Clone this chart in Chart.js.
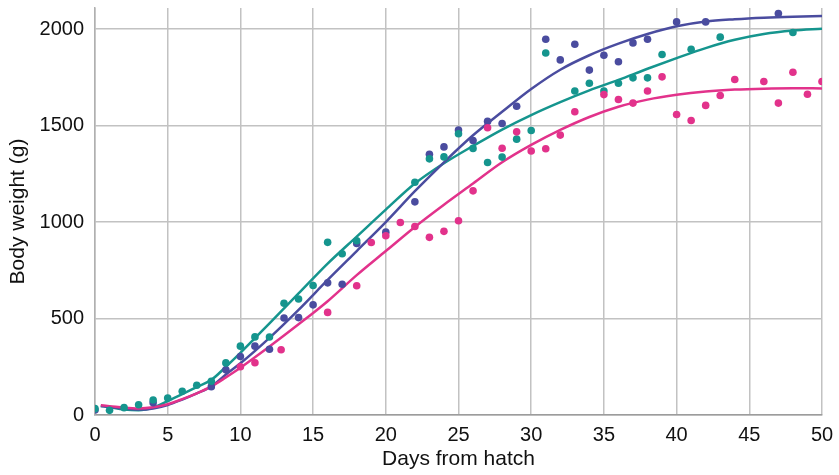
<!DOCTYPE html>
<html>
<head>
<meta charset="utf-8">
<script src="https://cdn.jsdelivr.net/npm/chart.js@4.4.1/dist/chart.umd.min.js"></script>
<style>
  html, body { margin: 0; padding: 0; background: #ffffff; }
  #wrap { width: 839px; height: 475px; }
</style>
</head>
<body>
<div id="wrap"><canvas id="growth" width="839" height="475"></canvas></div>
<script>
// Axis ticks
const xTicks = [0, 5, 10, 15, 20, 25, 30, 35, 40, 45, 50];
const yTicks = [0, 500, 1000, 1500, 2000];

// Measured body weights (g) by day from hatch
const blueDays = [0, 4, 8, 9, 10, 11, 12, 13, 14, 15, 16, 17, 18, 20, 22, 23, 24, 25, 26, 27, 28, 29, 31, 32, 33, 34, 35, 36, 37, 38, 40, 42, 47];
const blueWeights = [26, 64, 147, 234, 303, 357, 341, 503, 505, 571, 685, 678, 889, 948, 1105, 1352, 1390, 1477, 1423, 1522, 1511, 1601, 1948, 1841, 1922, 1788, 1865, 1831, 1929, 1948, 2038, 2038, 2081];

const tealDays = [0, 1, 2, 3, 4, 5, 6, 7, 8, 9, 10, 11, 12, 13, 14, 15, 16, 17, 18, 22, 23, 24, 25, 26, 27, 28, 29, 30, 31, 33, 34, 35, 36, 37, 38, 39, 41, 43, 48];
const tealWeights = [33, 24, 38, 53, 78, 88, 123, 154, 175, 270, 357, 405, 404, 579, 601, 671, 895, 836, 903, 1207, 1328, 1338, 1458, 1382, 1309, 1337, 1430, 1475, 1877, 1680, 1720, 1680, 1720, 1748, 1748, 1869, 1896, 1959, 1983];

const pinkDays = [10, 11, 12.8, 16, 18, 19, 20, 21, 22, 23, 24, 25, 26, 27, 28, 29, 30, 31, 32, 33, 35, 36, 37, 38, 39, 40, 41, 42, 43, 44, 46, 47, 48, 49, 50];
const pinkWeights = [250, 271, 338, 532, 670, 894, 929, 998, 977, 921, 952, 1007, 1162, 1489, 1383, 1468, 1369, 1380, 1451, 1572, 1661, 1636, 1617, 1680, 1753, 1558, 1527, 1605, 1656, 1739, 1729, 1617, 1777, 1663, 1729];

// Fitted growth curves
const curveDays = [0.4, 1, 2, 3, 4, 5, 6, 7, 8, 9, 10, 12, 14, 16, 18, 20, 22, 24, 26, 28, 30, 32, 34, 36, 38, 40, 42, 44, 46, 48, 50];
const blueCurve = [47, 42, 33, 28, 34, 52, 80, 112, 148, 210, 268, 400, 545, 700, 850, 1000, 1160, 1310, 1450, 1572, 1690, 1790, 1865, 1925, 1975, 2015, 2040, 2052, 2060, 2065, 2068];
const tealCurve = [47, 40, 28, 24, 38, 72, 108, 145, 182, 250, 322, 475, 630, 785, 925, 1065, 1200, 1305, 1395, 1480, 1555, 1622, 1683, 1737, 1795, 1850, 1902, 1945, 1975, 1993, 2003];
const pinkCurve = [50, 46, 38, 34, 40, 56, 82, 112, 148, 195, 245, 355, 470, 590, 725, 850, 975, 1090, 1200, 1310, 1400, 1478, 1545, 1598, 1635, 1660, 1677, 1687, 1692, 1694, 1693];

const BLUE = '#4a4c9f';
const TEAL = '#15958e';
const PINK = '#e2328b';
const FONT = 'Liberation Sans, Arial, Helvetica, sans-serif';

const toXY = (xs, ys) => xs.map((x, i) => ({ x: x, y: ys[i] }));

function dots(days, weights, color, order) {
  return {
    data: toXY(days, weights),
    backgroundColor: color,
    borderWidth: 0,
    pointRadius: 3.8,
    pointHoverRadius: 3.8,
    showLine: false,
    order: order
  };
}

function curve(values, color, order) {
  return {
    data: toXY(curveDays, values),
    borderColor: color,
    borderWidth: 2.5,
    pointRadius: 0,
    showLine: true,
    fill: false,
    cubicInterpolationMode: 'monotone',
    order: order
  };
}

const datasets = [
  dots(pinkDays, pinkWeights, PINK, 1),
  dots(tealDays, tealWeights, TEAL, 2),
  dots(blueDays, blueWeights, BLUE, 3),
  curve(pinkCurve, PINK, 4),
  curve(blueCurve, BLUE, 5),
  curve(tealCurve, TEAL, 6)
];

new Chart(document.getElementById('growth'), {
  type: 'scatter',
  data: { datasets: datasets },
  options: {
    responsive: false,
    animation: false,
    devicePixelRatio: 1,
    layout: { padding: { top: 8, right: 17, left: 0, bottom: 0 } },
    plugins: { legend: { display: false }, tooltip: { enabled: false } },
    scales: {
      x: {
        type: 'linear',
        min: 0,
        max: 50,
        afterBuildTicks: s => { s.ticks = xTicks.map(v => ({ value: v })); },
        afterFit: s => { s.height = 60; s.paddingLeft = 0; s.paddingRight = 0; },
        grid: { color: '#c2c2c2', lineWidth: 1.5, drawTicks: false },
        border: { color: '#9c9c9c', width: 1.5 },
        ticks: { color: '#111', padding: 8, maxRotation: 0, font: { family: FONT, size: 20 }, callback: v => String(v) },
        title: { display: true, text: 'Days from hatch', color: '#111', padding: { top: 0, bottom: 3 }, font: { family: FONT, size: 21 } }
      },
      y: {
        type: 'linear',
        min: 0,
        max: 2110,
        afterBuildTicks: s => { s.ticks = yTicks.map(v => ({ value: v })); },
        afterFit: s => { s.width = 95; s.paddingTop = 0; s.paddingBottom = 0; },
        grid: { color: '#c2c2c2', lineWidth: 1.5, drawTicks: false },
        border: { color: '#b0b0b0', width: 1.5 },
        ticks: { color: '#111', padding: 11, font: { family: FONT, size: 20 }, callback: v => String(v) },
        title: { display: true, text: 'Body weight (g)', color: '#111', padding: { top: 6, bottom: 0 }, font: { family: FONT, size: 21 } }
      }
    }
  }
});
</script>
</body>
</html>
